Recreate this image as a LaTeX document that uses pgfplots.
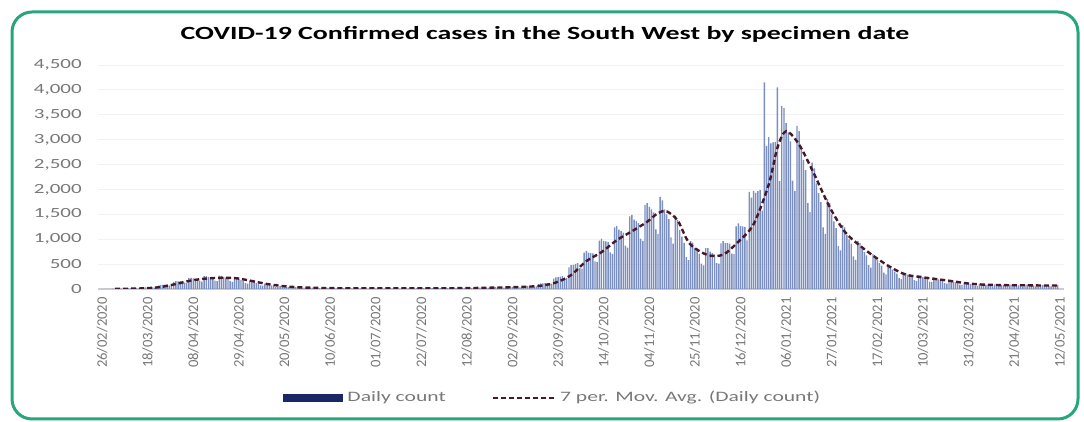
\documentclass[border=0pt]{standalone}
\usepackage{pgfplots}
\pgfplotsset{compat=1.18}
\usepackage{pgfplotstable}
\usepackage{fontspec}
\setmainfont{Carlito}[FakeStretch=1.5]
\newfontfamily\plainfont{Carlito}

\definecolor{framegreen}{RGB}{38,166,122}
\definecolor{barblue}{RGB}{122,142,192}
\definecolor{navyleg}{RGB}{25,40,100}
\definecolor{maline}{RGB}{70,25,40}
\definecolor{ticktext}{RGB}{120,120,120}

% daily counts, one week (Wed..Tue) per line, from 26/02/2020
\pgfplotstableread[row sep=\\]{
v\\
2\\ 2\\ 3\\ 2\\ 2\\ 5\\ 5\\
5\\ 5\\ 6\\ 5\\ 5\\ 10\\ 12\\
12\\ 13\\ 14\\ 11\\ 13\\ 27\\ 31\\
32\\ 35\\ 36\\ 30\\ 34\\ 69\\ 79\\
82\\ 87\\ 91\\ 75\\ 77\\ 144\\ 156\\
154\\ 158\\ 160\\ 128\\ 123\\ 218\\ 225\\
212\\ 208\\ 204\\ 158\\ 148\\ 257\\ 260\\
240\\ 232\\ 223\\ 169\\ 157\\ 267\\ 265\\
241\\ 229\\ 216\\ 161\\ 145\\ 239\\ 230\\
202\\ 184\\ 168\\ 120\\ 106\\ 171\\ 161\\
138\\ 123\\ 109\\ 75\\ 66\\ 106\\ 99\\
85\\ 75\\ 66\\ 45\\ 39\\ 63\\ 59\\
50\\ 44\\ 39\\ 26\\ 24\\ 39\\ 37\\
32\\ 29\\ 26\\ 19\\ 17\\ 28\\ 26\\
23\\ 21\\ 19\\ 14\\ 12\\ 21\\ 20\\
17\\ 16\\ 15\\ 11\\ 10\\ 18\\ 17\\
15\\ 15\\ 14\\ 10\\ 10\\ 17\\ 16\\
14\\ 13\\ 12\\ 9\\ 8\\ 14\\ 14\\
13\\ 13\\ 12\\ 9\\ 8\\ 15\\ 14\\
13\\ 12\\ 12\\ 9\\ 9\\ 15\\ 14\\
14\\ 14\\ 13\\ 10\\ 9\\ 16\\ 15\\
15\\ 15\\ 14\\ 10\\ 10\\ 17\\ 17\\
17\\ 16\\ 15\\ 11\\ 11\\ 18\\ 18\\
18\\ 18\\ 18\\ 14\\ 13\\ 23\\ 24\\
22\\ 22\\ 21\\ 17\\ 16\\ 28\\ 30\\
28\\ 28\\ 27\\ 21\\ 20\\ 36\\ 37\\
34\\ 34\\ 34\\ 26\\ 25\\ 45\\ 47\\
45\\ 44\\ 44\\ 34\\ 34\\ 61\\ 64\\
62\\ 62\\ 62\\ 49\\ 52\\ 100\\ 111\\
112\\ 117\\ 121\\ 98\\ 106\\ 208\\ 233\\
238\\ 249\\ 259\\ 210\\ 224\\ 432\\ 480\\
484\\ 504\\ 520\\ 420\\ 410\\ 733\\ 764\\
729\\ 723\\ 714\\ 555\\ 542\\ 971\\ 1012\\
965\\ 957\\ 946\\ 735\\ 704\\ 1237\\ 1268\\
1191\\ 1164\\ 1134\\ 870\\ 831\\ 1457\\ 1489\\
1396\\ 1361\\ 1323\\ 1013\\ 965\\ 1688\\ 1723\\
1650\\ 1600\\ 1540\\ 1200\\ 1100\\ 1850\\ 1780\\
1598\\ 1500\\ 1404\\ 1035\\ 913\\ 1475\\ 1384\\
1185\\ 1051\\ 926\\ 638\\ 578\\ 961\\ 932\\
828\\ 765\\ 704\\ 510\\ 477\\ 820\\ 821\\
752\\ 720\\ 688\\ 518\\ 509\\ 917\\ 961\\
923\\ 920\\ 913\\ 713\\ 700\\ 1260\\ 1320\\
1265\\ 1260\\ 1250\\ 975\\ 1950\\ 1835\\ 1972\\
1933\\ 1965\\ 1986\\ 1575\\ 4150\\ 2873\\ 3049\\
2925\\ 2946\\ 2953\\ 4050\\ 2168\\ 3677\\ 3637\\
3334\\ 3148\\ 2966\\ 2175\\ 1970\\ 3275\\ 3172\\
2813\\ 2595\\ 2386\\ 1725\\ 1545\\ 2537\\ 2425\\
2122\\ 1928\\ 1743\\ 1238\\ 1105\\ 1808\\ 1723\\
1500\\ 1358\\ 1221\\ 863\\ 777\\ 1284\\ 1236\\
1089\\ 998\\ 910\\ 653\\ 586\\ 965\\ 925\\
813\\ 741\\ 673\\ 480\\ 428\\ 700\\ 665\\
579\\ 522\\ 469\\ 330\\ 293\\ 476\\ 451\\
389\\ 350\\ 311\\ 218\\ 198\\ 331\\ 323\\
287\\ 267\\ 247\\ 180\\ 164\\ 275\\ 268\\
239\\ 222\\ 206\\ 150\\ 136\\ 227\\ 220\\
195\\ 180\\ 166\\ 120\\ 108\\ 176\\ 169\\
147\\ 134\\ 121\\ 86\\ 78\\ 130\\ 125\\
111\\ 102\\ 94\\ 68\\ 62\\ 104\\ 103\\
92\\ 87\\ 81\\ 60\\ 55\\ 95\\ 94\\
86\\ 81\\ 76\\ 56\\ 53\\ 90\\ 90\\
83\\ 79\\ 75\\ 56\\ 52\\ 89\\ 88\\
79\\ 75\\ 71\\ 53\\ 49\\ 84\\ 84\\
77\\ 74\\ 70\\ 53\\ 49\\ 84\\ 84\\
}\daily

\begin{document}
\begin{tikzpicture}
\path (0pt,0pt) rectangle (542pt,211pt);
\draw[framegreen, line width=1.5pt, rounded corners=10pt] (6pt,1.5pt) rectangle (539pt,205pt);
\node[font=\bfseries\fontsize{9.3}{11}\selectfont] at (272.5pt,194pt)
  {COVID-19 Confirmed cases in the South West by specimen date};
\begin{axis}[
    at={(48.85pt,66.5pt)}, anchor=south west,
    scale only axis, width=483.2pt, height=112pt,
    xmin=-2, xmax=443, ymin=0, ymax=4500,
    axis lines*=left,
    y axis line style={draw=none},
    x axis line style={gray!40, line width=0.6pt},
    tick style={draw=none},
    ymajorgrids, grid style={gray!10},
    ytick={0,500,...,4500},
    scaled y ticks=false,
    /pgf/number format/.cd, fixed, 1000 sep={,}, assume math mode=true, /pgfplots/.cd,
    yticklabel style={font=\fontsize{7}{8}\selectfont, color=ticktext, inner sep=0pt},
    yticklabel shift=7.8pt,
    xtick={0,21,...,441},
    xticklabels={26/02/2020,18/03/2020,08/04/2020,29/04/2020,20/05/2020,10/06/2020,
      01/07/2020,22/07/2020,12/08/2020,02/09/2020,23/09/2020,14/10/2020,04/11/2020,
      25/11/2020,16/12/2020,06/01/2021,27/01/2021,17/02/2021,10/03/2021,31/03/2021,
      21/04/2021,12/05/2021},
    xticklabel style={rotate=90, anchor=east, inner sep=0pt,
      font=\plainfont\fontsize{7.3}{8}\selectfont, color=ticktext},
    xticklabel shift=4pt,
    legend columns=2,
    legend style={at={(axis description cs:0.472,-0.487)}, anchor=center,
      draw=none, fill=none, font=\fontsize{7.2}{8}\selectfont, text=ticktext,
      /tikz/every even column/.append style={column sep=21pt}},
]
\addplot[ybar, fill=barblue, draw=none, bar width=0.65,
  legend image code/.code={\fill[navyleg] (0pt,-2pt) rectangle (30pt,2pt);}]
  table[x expr=\coordindex, y=v] {\daily};
\addlegendentry{Daily count}
\addplot[maline, line width=1.2pt, dash pattern=on 2.5pt off 1.5pt, smooth,
  legend image code/.code={\draw[maline, line width=1.2pt, dash pattern=on 2.5pt off 1.5pt] (0pt,0pt) -- (31pt,0pt);}]
  coordinates {
  (6,3)(13,6)(20,15)(27,40)(34,100)(41,170)(48,210)(55,225)(62,215)(69,160)
  (76,100)(83,60)(90,35)(97,25)(104,18)(111,15)(118,14)(125,12)(132,12)(139,12)
  (146,13)(153,14)(160,15)(167,18)(174,22)(181,28)(188,35)(195,45)(202,65)(209,130)
  (216,280)(223,560)(230,740)(237,980)(244,1160)(251,1350)(256,1525)(260,1560)
  (265,1380)(269,1020)(272,850)(279,680)(286,690)(293,950)(300,1300)(307,2100)
  (311,2840)(315,3170)(321,2900)(328,2300)(335,1650)(342,1150)(349,870)(356,640)
  (363,440)(370,290)(377,240)(384,200)(391,160)(398,115)(405,90)(412,80)(419,75)
  (426,75)(433,70)(440,70)};
\addlegendentry{7 per. Mov. Avg. (Daily count)}
\end{axis}
\end{tikzpicture}
\end{document}
